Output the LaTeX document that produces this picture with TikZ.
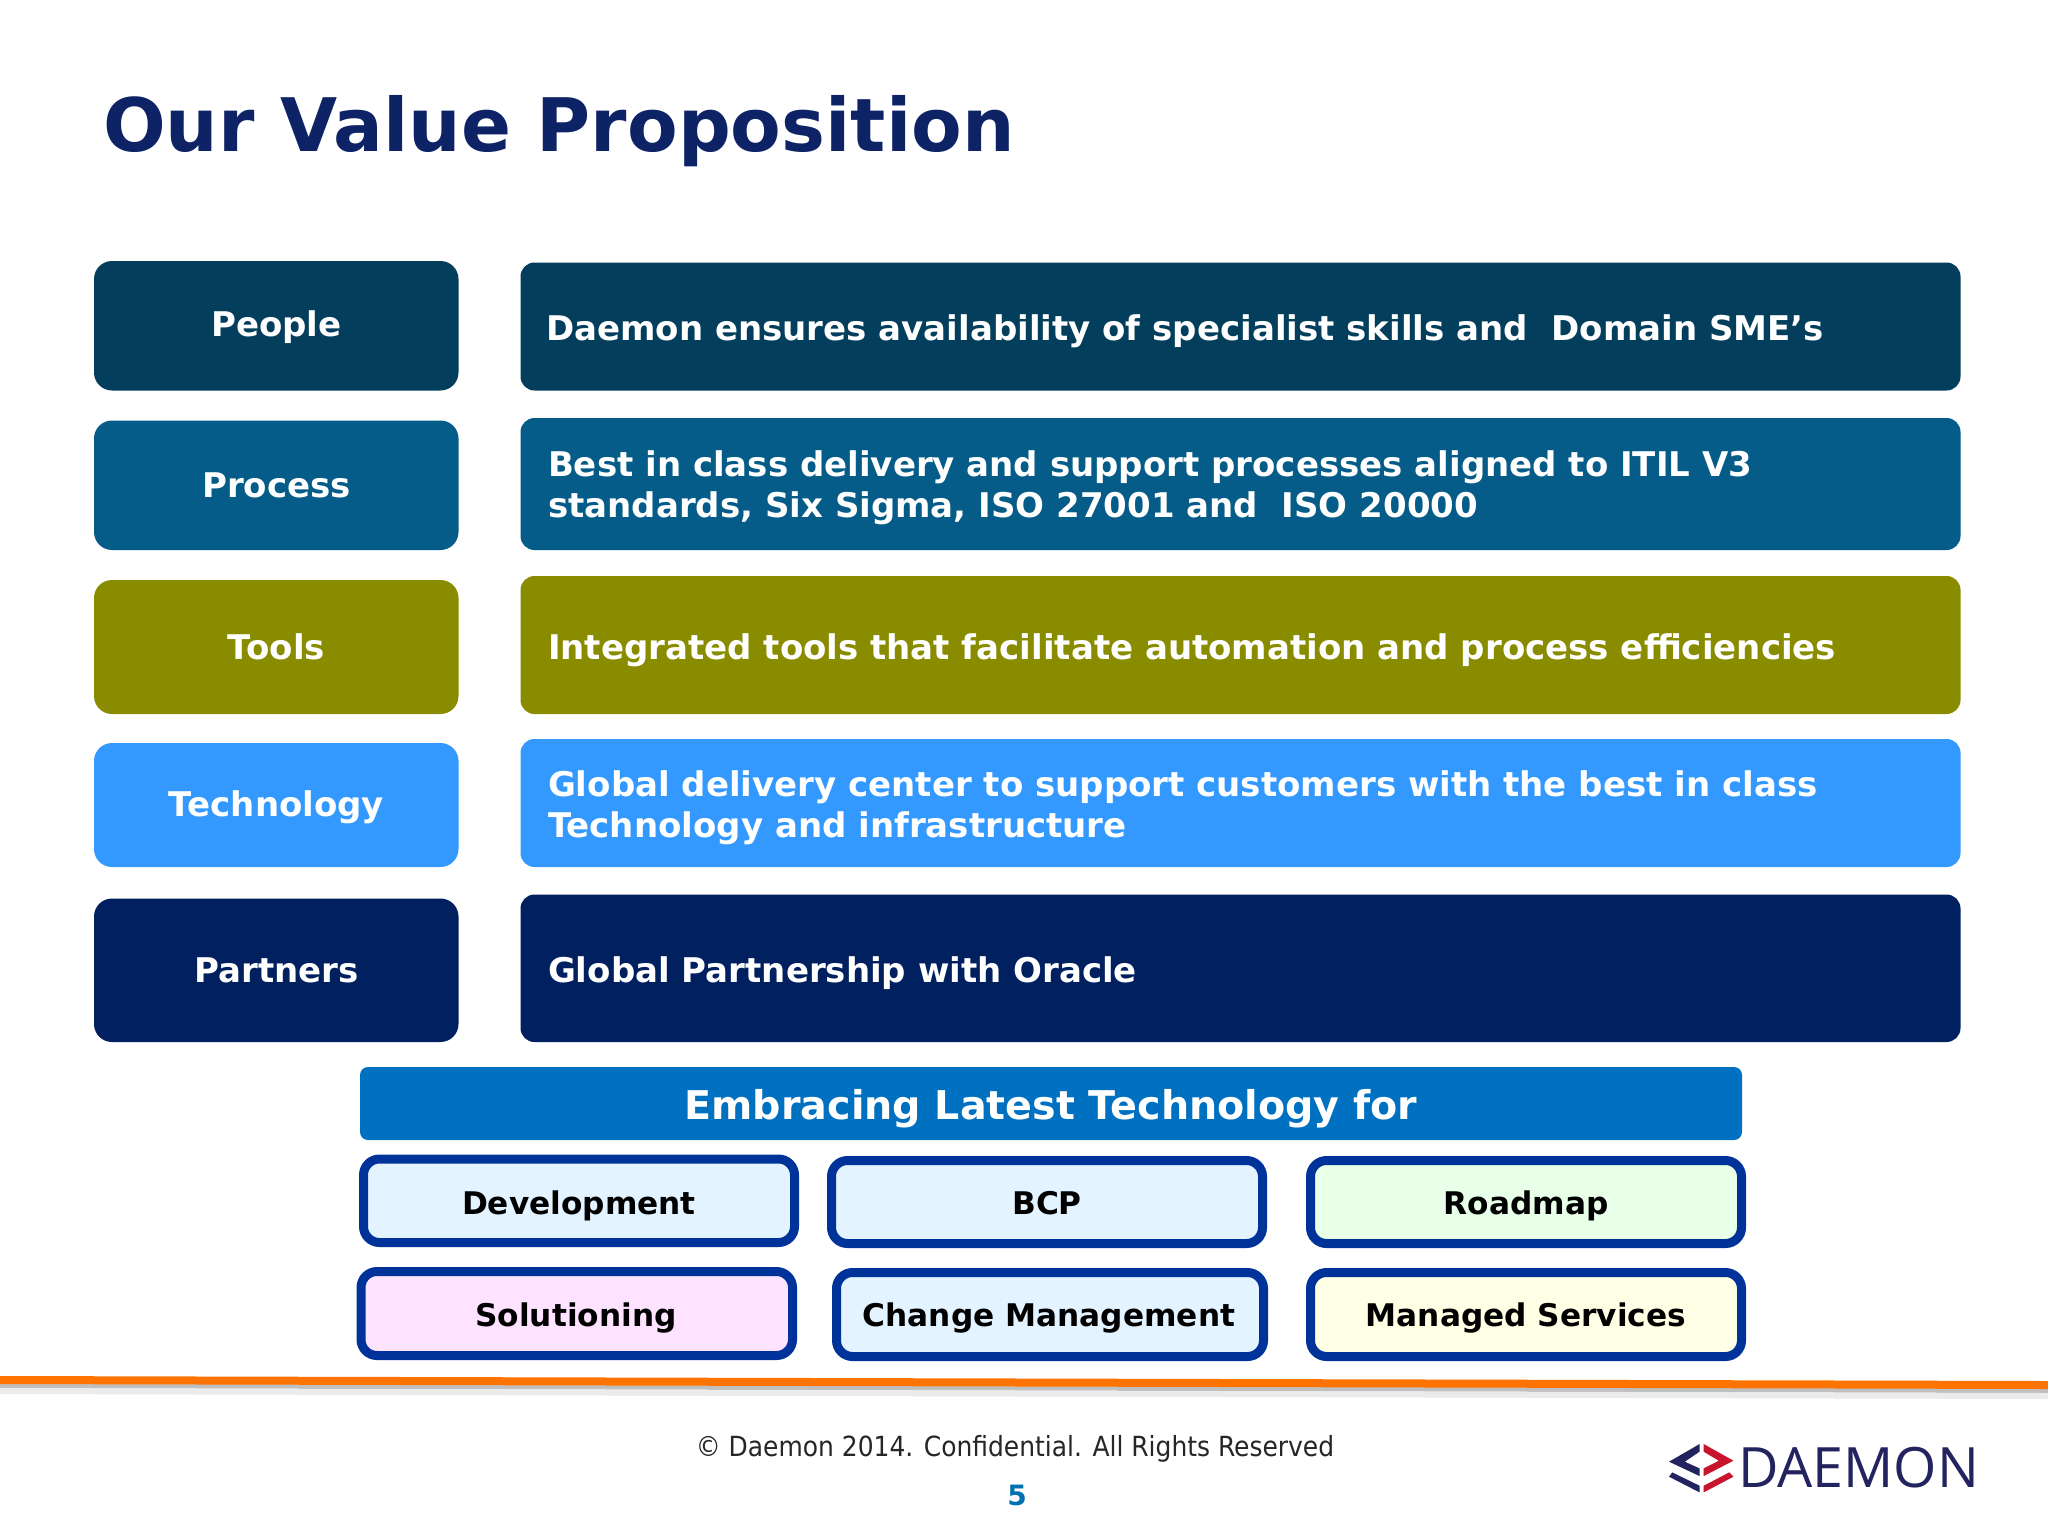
\documentclass[tikz,border=0pt]{standalone}
\usepackage{fontspec}
\setmainfont{DejaVu Sans}
\newfontfamily\logofont{Open Sans}
\newfontfamily\footfont{DejaVu Sans Condensed}
\definecolor{cPeople}{HTML}{033F5C}
\definecolor{cProcess}{HTML}{055C88}
\definecolor{cTools}{HTML}{8A8C00}
\definecolor{cTech}{HTML}{3399FF}
\definecolor{cPartners}{HTML}{002060}
\definecolor{cEmbrace}{HTML}{0070C0}
\definecolor{cBorder}{HTML}{003399}
\definecolor{cTitle}{HTML}{0D2366}
\definecolor{cOrange}{HTML}{FF7300}
\definecolor{cLogoBlue}{HTML}{23235F}
\definecolor{cLogoRed}{HTML}{C8142D}
\definecolor{cNum}{HTML}{0070B0}
\definecolor{cDev}{HTML}{E3F3FF}
\definecolor{cSol}{HTML}{FDE3FF}
\definecolor{cRoad}{HTML}{E8FFE8}
\definecolor{cMan}{HTML}{FFFFE6}
\tikzset{
  x=0.5pt,y=-0.5pt,
  tagblock/.style={rounded corners=9pt,draw=none},
  block/.style={rounded corners=7pt,draw=none},
  labeltext/.style={text=white,font=\fontsize{17}{20}\selectfont\bfseries,anchor=center,text height=12.4pt,text depth=0pt},
  bodytext/.style={text=white,font=\fontsize{17}{20.3}\selectfont\bfseries,anchor=west,align=left},
  chip/.style={draw=cBorder,line width=4.5pt,rounded corners=8pt},
  chiptext/.style={text=black,font=\fontsize{15.6}{20}\selectfont\bfseries,anchor=center,text height=11.4pt,text depth=0pt},
}
\begin{document}
\begin{tikzpicture}
\useasboundingbox (0,0) rectangle (2048,1536);
\fill[white] (0,0) rectangle (2048,1536);
\node[text=cTitle,font=\fontsize{36.9}{44}\selectfont\bfseries,anchor=west] (title) at (96,131) {Our Value Proposition};

\fill[tagblock,cPeople] (94,261) rectangle (458.5,390.5);
\node[labeltext] (l1) at (276.5,324) {People};
\fill[block,cPeople] (520.5,262.5) rectangle (1960.5,390.5);
\node[bodytext] (b1) at (539,331) {Daemon ensures availability of specialist skills and\ \ Domain SME’s};

\fill[tagblock,cProcess] (94,420.5) rectangle (458.5,550);
\node[labeltext] (l2) at (276.5,485) {Process};
\fill[block,cProcess] (520.5,418) rectangle (1960.5,550);
\node[bodytext] (b2) at (541,488) {Best in class delivery and support processes aligned to ITIL V3\\standards, Six Sigma, ISO 27001 and\ \ ISO 20000};

\fill[tagblock,cTools] (94,580) rectangle (458.5,714);
\node[labeltext] (l3) at (276.5,647) {Tools};
\fill[block,cTools] (520.5,576) rectangle (1960.5,714);
\node[bodytext] (b3) at (541,650) {Integrated tools that facilitate automation and process efficiencies};

\fill[tagblock,cTech] (94,743) rectangle (458.5,867);
\node[labeltext] (l4) at (276.5,804) {Technology};
\fill[block,cTech] (520.5,739) rectangle (1960.5,867);
\node[bodytext] (b4) at (541,808) {Global delivery center to support customers with the best in class\\Technology and infrastructure};

\fill[tagblock,cPartners] (94,898.5) rectangle (458.5,1042);
\node[labeltext] (l5) at (276.5,970) {Partners};
\fill[block,cPartners] (520.5,894.5) rectangle (1960.5,1042);
\node[bodytext] (b5) at (541,973) {Global Partnership with Oracle};

\fill[rounded corners=4pt,cEmbrace] (360,1067) rectangle (1742,1140);
\node[text=white,font=\fontsize{19.8}{24}\selectfont\bfseries] (emb) at (1051,1109) {Embracing Latest Technology for};

\filldraw[chip,fill=cDev] (363.5,1159) rectangle (794.5,1242.5);
\node[chiptext] (c1) at (579,1203) {Development};
\filldraw[chip,fill=cDev] (831.5,1160.5) rectangle (1262.5,1243.5);
\node[chiptext] (c2) at (1047,1203) {BCP};
\filldraw[chip,fill=cRoad] (1310.5,1160.5) rectangle (1741.5,1243.5);
\node[chiptext] (c3) at (1526,1203) {Roadmap};
\filldraw[chip,fill=cSol] (361,1271.5) rectangle (792.5,1355.5);
\node[chiptext] (c4) at (576,1315) {Solutioning};
\filldraw[chip,fill=cDev] (836.5,1272.5) rectangle (1263.5,1356.5);
\node[chiptext] (c5) at (1049,1315) {Change Management};
\filldraw[chip,fill=cMan] (1310.5,1272.5) rectangle (1741.5,1356.5);
\node[chiptext] (c6) at (1526,1315) {Managed Services};

\fill[black!25] (0,1383) -- (2048,1388) -- (2048,1393) -- (0,1388) -- cycle;
\fill[black!8] (0,1388) -- (2048,1393) -- (2048,1399) -- (0,1394) -- cycle;
\fill[cOrange] (0,1376) -- (2048,1381) -- (2048,1389) -- (0,1384) -- cycle;

\node[text=black!85,font=\footfont\fontsize{13.87}{16}\selectfont] (foot) at (1015,1449) {© Daemon 2014. Confidential. All Rights Reserved};
\node[text=cNum,font=\fontsize{14}{16}\selectfont\bfseries] (num) at (1017,1495) {5};

\begin{scope}[shift={(1500,1340)},x=0.175pt,y=-0.1667pt]
\fill[cLogoBlue] (570,312) -- (483,365) -- (570,408) -- (570,385) -- (528,365) -- (570,335) -- cycle;
\fill[cLogoRed] (582,312) -- (667,362) -- (582,408) -- (582,385) -- (625,362) -- (582,335) -- cycle;
\fill[cLogoBlue] (492,397) -- (570,437) -- (570,457) -- (483,410) -- cycle;
\fill[cLogoRed] (582,437) -- (655,397) -- (667,410) -- (582,457) -- cycle;
\end{scope}
\node[text=cLogoBlue,font=\logofont\fontsize{27.8}{32}\selectfont,anchor=center,inner sep=0pt] (logo) at (1858.5,1468) {DAEMON};
\end{tikzpicture}
\end{document}
